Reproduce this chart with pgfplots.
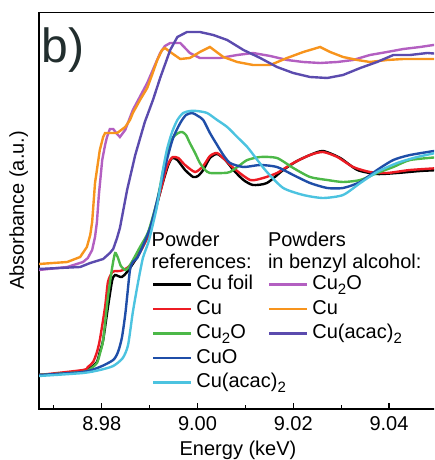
\documentclass[border=0pt]{standalone}
\usepackage{fontspec}
\setmainfont{Liberation Sans}
\usepackage{pgfplots}
\pgfplotsset{compat=1.18}
\definecolor{cRed}{HTML}{ED1C24}
\definecolor{cGreen}{HTML}{4CB848}
\definecolor{cBlue}{HTML}{1F4EA8}
\definecolor{cCyan}{HTML}{4CC3E0}
\definecolor{cMag}{HTML}{B35FC1}
\definecolor{cOrange}{HTML}{F7941D}
\definecolor{cPurple}{HTML}{5B4BAE}
\definecolor{cDark}{HTML}{222E2E}
\newcommand{\sub}[1]{\raisebox{-5pt}{\fontsize{15}{15}\selectfont #1}}
\pgfplotsset{
  mystyle/.style={
    at={(39pt,51pt)}, anchor=south west,
    scale only axis, width=397.9pt, height=396.5pt,
    xmin=8.9669, xmax=9.0500, ymin=0, ymax=396.5,
    legend cell align=left,
    legend image code/.code={\draw[##1] (0pt,0pt) -- (38pt,0pt); \path (0pt,3pt);},
  },
  mylegend/.style={
    legend style={
      at={(#1)}, anchor=north west,
      draw=none, fill=none, inner sep=0pt, outer sep=0pt,
      font=\fontsize{20}{24}\selectfont,
      row sep=5.5pt, column sep=4pt,
      nodes={inner xsep=0pt, inner ysep=0pt, text height=15pt, text depth=4pt},
    },
  },
}
\begin{document}
\begin{tikzpicture}[font=\fontsize{20}{24}\selectfont]
\useasboundingbox (0,0) rectangle (434pt,460pt);
\clip (0,0) rectangle (434pt,460pt);
\begin{axis}[mystyle, mylegend={0.284,0.338},
  axis line style={line width=1.6pt, black},
  xtick pos=bottom, ytick=\empty,
  xtick={8.98,9.00,9.02,9.04},
  minor xtick={8.97,8.99,9.01,9.03},
  tick align=inside,
  major tick length=6pt, minor tick length=4pt,
  every tick/.style={line width=1.2pt, black},
  /pgf/number format/assume math mode=true,
  xticklabel={\pgfmathprintnumber[fixed,fixed zerofill,precision=2]{\tick}},
  tick label style={font=\fontsize{20}{24}\selectfont},
  xticklabel style={yshift=-4.5pt},
]
\addplot[black, line width=2.4pt, smooth, tension=0.4] coordinates {
(8.9669,34) (8.9761,37) (8.9776,41) (8.9790,47) (8.9796,57) (8.9803,69) (8.9813,102) (8.9822,129) (8.9828,134) (8.9834,133) (8.9842,132) (8.9853,137) (8.9874,152) (8.9897,174) (8.9911,197) (8.9928,227) (8.9939,244) (8.9947,251) (8.9958,249) (8.9974,239) (8.9991,232) (9.0001,233) (9.0012,239) (9.0026,251) (9.0041,255) (9.0058,249) (9.0075,239) (9.0096,229) (9.0116,224) (9.0145,226) (9.0179,239) (9.0208,248) (9.0235,254) (9.0262,258) (9.0298,251) (9.0334,239) (9.0375,235) (9.0417,236) (9.0465,238) (9.0507,239)};
\addlegendentry{Cu foil}
\addplot[cRed, line width=2.4pt, smooth, tension=0.4] coordinates {
(8.9669,34) (8.9761,39) (8.9771,42) (8.9782,47) (8.9790,57) (8.9796,69) (8.9807,102) (8.9813,127) (8.9822,137) (8.9828,138) (8.9838,138) (8.9853,141) (8.9874,152) (8.9895,171) (8.9909,194) (8.9926,224) (8.9936,242) (8.9943,249) (8.9949,252) (8.9960,251) (8.9974,244) (8.9995,237) (9.0012,243) (9.0026,253) (9.0041,256) (9.0058,249) (9.0075,241) (9.0110,229) (9.0137,231) (9.0166,236) (9.0200,246) (9.0235,254) (9.0262,257) (9.0292,252) (9.0325,242) (9.0360,237) (9.0396,236) (9.0444,239) (9.0507,241)};
\addlegendentry{Cu}
\addplot[cGreen, line width=2.4pt, smooth, tension=0.4] coordinates {
(8.9669,34) (8.9761,37) (8.9776,40) (8.9790,46) (8.9796,55) (8.9803,69) (8.9813,112) (8.9822,142) (8.9828,156) (8.9834,151) (8.9840,143) (8.9849,139) (8.9855,141) (8.9863,147) (8.9880,162) (8.9897,177) (8.9916,209) (8.9932,247) (8.9947,270) (8.9960,276) (8.9968,277) (8.9976,274) (8.9984,266) (8.9995,256) (9.0005,246) (9.0016,239) (9.0026,236) (9.0054,236) (9.0068,237) (9.0089,244) (9.0104,249) (9.0131,252) (9.0166,251) (9.0200,241) (9.0235,232) (9.0271,229) (9.0304,227) (9.0340,229) (9.0375,236) (9.0409,242) (9.0444,249) (9.0507,252)};
\addlegendentry{Cu\sub{2}O}
\addplot[cBlue, line width=2.4pt, smooth, tension=0.4] coordinates {
(8.9669,34) (8.9761,37) (8.9796,42) (8.9824,49) (8.9834,57) (8.9842,71) (8.9849,94) (8.9853,112) (8.9859,139) (8.9865,147) (8.9874,151) (8.9886,163) (8.9901,181) (8.9911,199) (8.9922,221) (8.9936,249) (8.9949,271) (8.9964,286) (8.9976,294) (8.9989,296) (9.0001,293) (9.0012,289) (9.0026,276) (9.0041,264) (9.0054,254) (9.0068,246) (9.0096,242) (9.0131,244) (9.0166,242) (9.0200,234) (9.0235,226) (9.0271,221) (9.0304,221) (9.0340,227) (9.0375,239) (9.0409,249) (9.0444,254) (9.0507,259)};
\addlegendentry{CuO}
\addplot[cCyan, line width=2.4pt, smooth, tension=0.4] coordinates {
(8.9669,33) (8.9761,36) (8.9796,39) (8.9824,43) (8.9844,51) (8.9855,64) (8.9865,97) (8.9876,127) (8.9886,151) (8.9897,166) (8.9905,181) (8.9916,204) (8.9926,234) (8.9936,259) (8.9947,277) (8.9958,289) (8.9970,296) (8.9984,298) (8.9999,298) (9.0020,296) (9.0041,289) (9.0062,282) (9.0083,272) (9.0104,262) (9.0125,249) (9.0145,237) (9.0179,221) (9.0221,214) (9.0262,211) (9.0304,214) (9.0340,226) (9.0375,237) (9.0417,246) (9.0459,252) (9.0507,257)};
\addlegendentry{Cu(acac)\sub{2}}
\end{axis}
\begin{axis}[mystyle, mylegend={0.5755,0.338}, hide axis]
\addplot[cMag, line width=2.4pt] coordinates {
(8.9669,139) (8.9728,142) (8.9761,147) (8.9771,151) (8.9780,159) (8.9786,172) (8.9790,187) (8.9794,214) (8.9801,249) (8.9807,264) (8.9811,272) (8.9817,280) (8.9824,280) (8.9832,275) (8.9838,272) (8.9849,279) (8.9865,299) (8.9895,326) (8.9922,356) (8.9932,363) (8.9943,366) (8.9964,366) (8.9984,356) (9.0005,351) (9.0047,351) (9.0083,354) (9.0116,356) (9.0152,353) (9.0187,349) (9.0221,347) (9.0256,346) (9.0292,347) (9.0325,349) (9.0360,354) (9.0396,357) (9.0430,360) (9.0465,362) (9.0507,365)};
\addlegendentry{Cu\sub{2}O}
\addplot[cOrange, line width=2.4pt] coordinates {
(8.9669,145) (8.9728,147) (8.9755,152) (8.9769,162) (8.9776,174) (8.9780,187) (8.9786,226) (8.9796,259) (8.9803,272) (8.9807,276) (8.9817,276) (8.9832,276) (8.9838,278) (8.9849,282) (8.9859,289) (8.9865,296) (8.9880,309) (8.9895,321) (8.9905,334) (8.9916,349) (8.9926,359) (8.9932,361) (8.9943,357) (8.9964,350) (8.9984,351) (9.0005,357) (9.0026,362) (9.0054,352) (9.0083,347) (9.0116,344) (9.0152,344) (9.0187,351) (9.0221,357) (9.0256,362) (9.0277,357) (9.0304,352) (9.0334,349) (9.0360,347) (9.0396,349) (9.0430,350) (9.0465,350) (9.0507,350)};
\addlegendentry{Cu}
\addplot[cPurple, line width=2.4pt] coordinates {
(8.9669,140) (8.9755,142) (8.9776,146) (8.9803,150) (8.9817,156) (8.9824,160) (8.9832,171) (8.9838,181) (8.9853,219) (8.9870,254) (8.9890,287) (8.9907,309) (8.9922,331) (8.9943,359) (8.9958,372) (8.9978,377) (9.0005,377) (9.0033,374) (9.0062,369) (9.0096,359) (9.0131,351) (9.0166,342) (9.0200,336) (9.0235,332) (9.0271,331) (9.0304,334) (9.0340,341) (9.0375,347) (9.0409,354) (9.0444,354) (9.0480,356) (9.0507,355)};
\addlegendentry{Cu(acac)\sub{2}}
\end{axis}
\node[anchor=base west, inner sep=0pt] at (151.5pt,213.3pt) {Powder};
\node[anchor=base west, inner sep=0pt] at (151.5pt,191.7pt) {references:};
\node[anchor=base west, inner sep=0pt] at (267.8pt,213.3pt) {Powders};
\node[anchor=base west, inner sep=0pt] at (267.8pt,191.7pt) {in benzyl alcohol:};
\node[anchor=base west, inner sep=0pt, text=cDark, font=\fontsize{48}{50}\selectfont] at (41.5pt,397pt) {b)};
\node[anchor=base, inner sep=0pt] at (238pt,4.6pt) {Energy (keV)};
\node[anchor=base, rotate=90, inner sep=0pt] at (24pt,249.5pt) {Absorbance (a.u.)};
\end{tikzpicture}
\end{document}
